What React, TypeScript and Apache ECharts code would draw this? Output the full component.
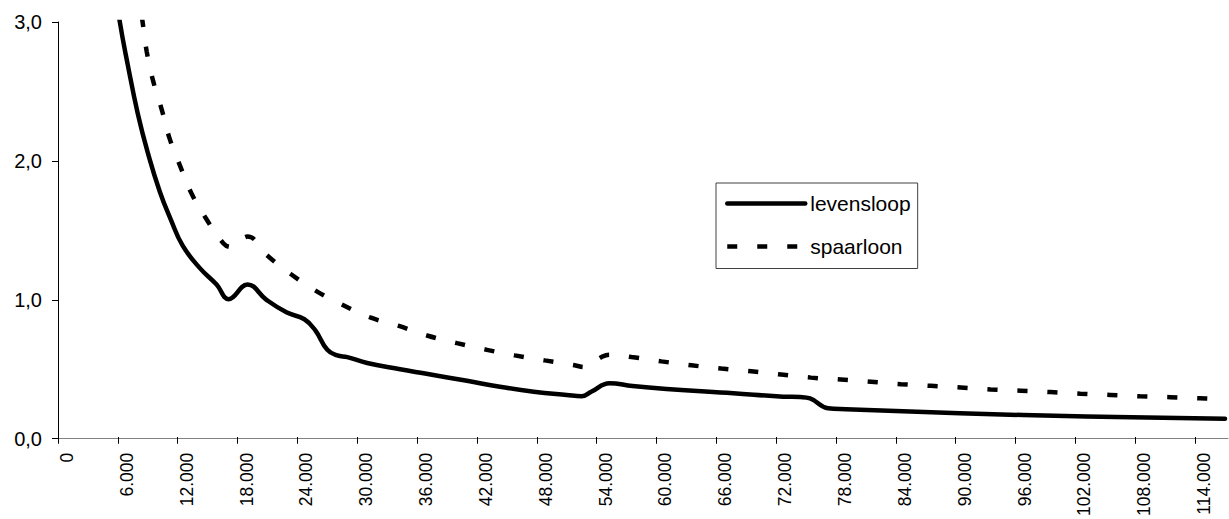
import React, { useEffect, useRef } from 'react';
import * as echarts from 'echarts';

// x-axis tick values (labels formatted as Dutch thousands)
const xTicks = [
  0, 6000, 12000, 18000, 24000, 30000, 36000, 42000, 48000, 54000, 60000,
  66000, 72000, 78000, 84000, 90000, 96000, 102000, 108000, 114000,
];

// levensloop: [inkomen, waarde]
const levensloop: [number, number][] = [
  [5500, 3.35], [6200, 3.0], [7000, 2.69], [8000, 2.34], [9000, 2.06],
  [10200, 1.78], [11300, 1.58], [12500, 1.39], [14200, 1.23], [15900, 1.11],
  [17100, 1.005], [19000, 1.11], [20900, 1.0], [22900, 0.91], [24700, 0.86],
  [25800, 0.78], [27000, 0.64], [28000, 0.6], [29000, 0.588], [31000, 0.545],
  [34300, 0.5], [36800, 0.469], [41000, 0.417], [44300, 0.374], [47700, 0.339],
  [51000, 0.315], [52500, 0.306], [53500, 0.34], [55300, 0.4], [57600, 0.379],
  [61000, 0.358], [67700, 0.327], [72700, 0.303], [74400, 0.3], [75400, 0.29],
  [77200, 0.22], [79000, 0.213], [90400, 0.184], [103100, 0.16], [117000, 0.144],
];

// spaarloon: [inkomen, waarde]
const spaarloon: [number, number][] = [
  [8000, 3.25], [8500, 2.99], [8900, 2.785], [9550, 2.572], [10400, 2.37],
  [11160, 2.168], [12230, 1.966], [13400, 1.764], [14840, 1.586], [16570, 1.408],
  [17400, 1.38], [19000, 1.455], [20900, 1.324], [23400, 1.182], [25900, 1.063],
  [28400, 0.968], [31300, 0.873], [34100, 0.814], [37000, 0.743], [40000, 0.688],
  [43000, 0.64], [45800, 0.6], [48800, 0.564], [51800, 0.529], [52800, 0.515],
  [54500, 0.588], [55300, 0.605], [57500, 0.588], [60500, 0.557], [63500, 0.529],
  [66500, 0.505], [69500, 0.486], [72500, 0.462], [75500, 0.44], [78500, 0.426],
  [81500, 0.41], [84500, 0.393], [87500, 0.381], [90500, 0.369], [93500, 0.355],
  [96500, 0.346], [99500, 0.336], [102500, 0.324], [105500, 0.315], [108500, 0.305],
  [111500, 0.299], [114500, 0.291], [117000, 0.284],
];

const seriesNames = ['levensloop', 'spaarloon'];

const FONT = '"Liberation Sans", Arial, sans-serif';
const X_MAX = 117300;
const LW = 4.5;
const DASH = [10, 20];

const fmtX = (v: number) => String(v).replace(/\B(?=(\d{3})+(?!\d))/g, '.');
const fmtY = (v: number) => v.toFixed(1).replace('.', ',');

export default function App() {
  const ref = useRef<HTMLDivElement>(null);

  useEffect(() => {
    if (!ref.current) return;
    const chart = echarts.init(ref.current, undefined, { renderer: 'svg' });
    chart.setOption({
      animation: false,
      backgroundColor: '#fff',
      grid: { left: 58, right: 1, top: 22, bottom: 77, containLabel: false },
      legend: {
        orient: 'vertical',
        left: 716,
        top: 183,
        padding: [4.5, 7, 6, 9],
        borderColor: '#404040',
        borderWidth: 1,
        itemWidth: 78,
        itemHeight: 14,
        itemGap: 11,
        itemStyle: { opacity: 0 },
        textStyle: {
          fontSize: 21,
          fontFamily: FONT,
          color: '#000',
          lineHeight: 24,
          padding: [8, 0, 0, 0],
        },
        data: [
          { name: seriesNames[0], lineStyle: { color: '#000', width: LW, cap: 'round', type: 'solid' } },
          { name: seriesNames[1], lineStyle: { color: '#000', width: LW, cap: 'butt', type: DASH } },
        ],
      },
      xAxis: [
        {
          type: 'value',
          min: 0,
          max: X_MAX,
          splitLine: { show: false },
          axisLine: { show: true, onZero: false, lineStyle: { color: '#808080', width: 1 } },
          axisTick: {
            show: true,
            inside: false,
            length: 5,
            customValues: xTicks,
            lineStyle: { color: '#000', width: 1 },
          },
          axisLabel: {
            customValues: xTicks,
            rotate: 90,
            margin: 14,
            fontSize: 17.5,
            fontFamily: FONT,
            color: '#000',
            verticalAlign: 'top',
            formatter: (v: number) => fmtX(v),
          },
        },
        {
          type: 'value',
          position: 'top',
          offset: -420,
          min: 0,
          max: X_MAX,
          splitLine: { show: false },
          axisLine: { show: false, onZero: false },
          axisLabel: { show: false },
          axisTick: {
            show: true,
            inside: false,
            length: 5,
            customValues: xTicks,
            lineStyle: { color: '#000', width: 1 },
          },
        },
      ],
      yAxis: {
        type: 'value',
        min: 0,
        max: 3,
        interval: 1,
        splitLine: { show: false },
        axisLine: { show: true, lineStyle: { color: '#000', width: 1 } },
        axisTick: { show: true, inside: false, length: 6, lineStyle: { color: '#000' } },
        axisLabel: {
          margin: 16,
          fontSize: 20,
          fontFamily: FONT,
          color: '#000',
          formatter: (v: number) => fmtY(v),
        },
      },
      series: [
        {
          name: seriesNames[0],
          type: 'line',
          data: levensloop,
          symbol: 'none',
          smooth: 0.45,
          itemStyle: { color: '#000' },
          lineStyle: { color: '#000', width: LW, cap: 'round', join: 'round' },
        },
        {
          name: seriesNames[1],
          type: 'line',
          data: spaarloon,
          symbol: 'none',
          smooth: 0.45,
          itemStyle: { color: '#000' },
          lineStyle: { color: '#000', width: LW, type: DASH },
        },
      ],
    });
    return () => chart.dispose();
  }, []);

  return (
    <div
      ref={ref}
      style={{ position: 'absolute', left: 0, top: 0, width: 1229, height: 519, background: '#fff' }}
    />
  );
}
